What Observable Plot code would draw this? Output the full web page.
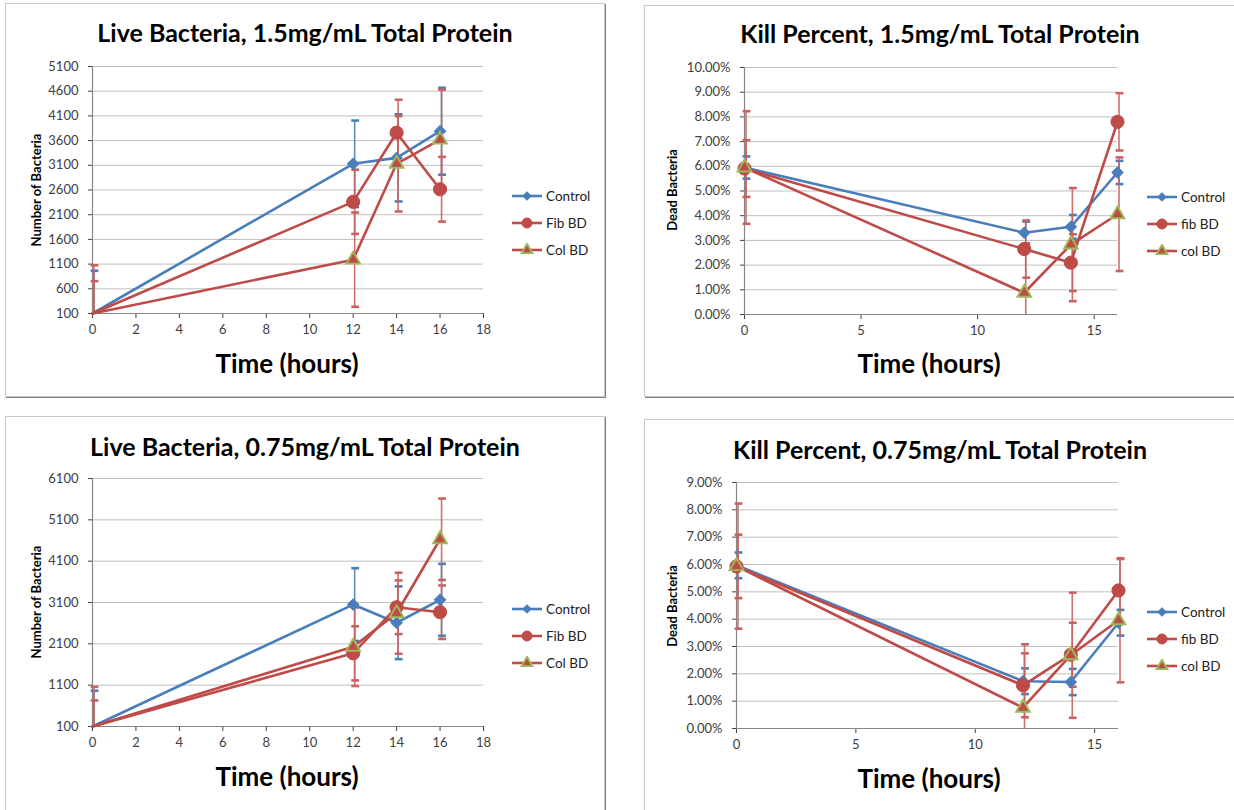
<!DOCTYPE html>
<html>
<head>
<meta charset="utf-8">
<script src="https://cdn.jsdelivr.net/npm/d3@7"></script>
<script src="https://cdn.jsdelivr.net/npm/@observablehq/plot@0.6"></script>
<style>
  html, body { margin: 0; padding: 0; background: #fff; }
  body { width: 1234px; height: 810px; overflow: hidden; position: relative; font-family: Lato, "Open Sans", sans-serif; }
  .panel { position: absolute; background: #fff; border: 1px solid #c8c8c8; box-shadow: 1px 1px 0 #7f7f7f; box-sizing: border-box; }
  .title { position: absolute; font-weight: bold; font-size: 25px; color: #000; white-space: nowrap; transform: translate(-50%, -50%); }
  .xtitle { position: absolute; font-weight: bold; font-size: 26px; color: #000; white-space: nowrap; transform: translate(-50%, -50%); }
  .ytitle { position: absolute; font-weight: bold; font-size: 13px; color: #000; white-space: nowrap; transform: translate(-50%, -50%) rotate(-90deg); }
  .chart { position: absolute; }
  .legend-item { position: absolute; display: flex; align-items: center; font-size: 13.5px; color: #222; white-space: nowrap; transform: translateY(-50%); }
  .legend-item svg { margin-right: 3px; }
</style>
</head>
<body>
<script>
// ---------------- data ----------------
const times = [0, 12, 14, 16];
const seriesNamesLive = ["Control", "Fib BD", "Col BD"];
const seriesNamesKill = ["Control", "fib BD", "col BD"];

// Live Bacteria, 1.5 mg/mL
const live15Control = [100, 3130, 3250, 3790];
const live15ControlErr = [865, 876, 882, 880];
const live15Fib = [100, 2360, 3760, 2615];
const live15FibErr = [655, 650, 667, 655];
const live15Col = [100, 1190, 3130, 3620];
const live15ColErr = [977, 955, 965, 1011];

// Kill Percent, 1.5 mg/mL (fractions)
const kill15Control = [0.0595, 0.0331, 0.0355, 0.0575];
const kill15ControlErr = [0.0045, 0.0045, 0.0048, 0.0047];
const kill15Fib = [0.0591, 0.0265, 0.0210, 0.0780];
const kill15FibErr = [0.0115, 0.0116, 0.0115, 0.0116];
const kill15Col = [0.0595, 0.0088, 0.0283, 0.0406];
const kill15ColErr = [0.0228, 0.0200, 0.0229, 0.0230];

// Live Bacteria, 0.75 mg/mL
const live075Control = [100, 3050, 2610, 3165];
const live075ControlErr = [865, 880, 880, 870];
const live075Fib = [100, 1870, 2985, 2865];
const live075FibErr = [630, 655, 650, 647];
const live075Col = [100, 2030, 2840, 4630];
const live075ColErr = [960, 950, 980, 985];

// Kill Percent, 0.75 mg/mL (fractions)
const kill075Control = [0.0597, 0.0173, 0.0170, 0.0387];
const kill075ControlErr = [0.0047, 0.0047, 0.0048, 0.0047];
const kill075Fib = [0.0593, 0.0158, 0.0270, 0.0505];
const kill075FibErr = [0.0116, 0.0117, 0.0117, 0.0115];
const kill075Col = [0.0594, 0.0076, 0.0268, 0.0396];
const kill075ColErr = [0.0229, 0.0232, 0.0229, 0.0227];

// axis ticks
const liveTicks15 = [100, 600, 1100, 1600, 2100, 2600, 3100, 3600, 4100, 4600, 5100];
const liveTicks075 = [100, 1100, 2100, 3100, 4100, 5100, 6100];
const killTicks15 = [0, 0.01, 0.02, 0.03, 0.04, 0.05, 0.06, 0.07, 0.08, 0.09, 0.10];
const killTicks075 = [0, 0.01, 0.02, 0.03, 0.04, 0.05, 0.06, 0.07, 0.08, 0.09];
const liveXTicks = [0, 2, 4, 6, 8, 10, 12, 14, 16, 18];
const killXTicks = [0, 5, 10, 15];

// ---------------- styles ----------------
const BLUE = "#4A7EBB";
const RED = "#BE4B48";
const GREEN = "#9BBB59";
const styles = [
  {stroke: BLUE, errStroke: BLUE, symbol: "square", rotate: 45, r: 4.5, fill: BLUE, mstroke: BLUE, msw: 1},
  {stroke: RED, errStroke: "#C9625F", symbol: "circle", rotate: 0, r: 6.6, fill: RED, mstroke: RED, msw: 1},
  {stroke: RED, errStroke: "#C9625F", symbol: "triangle", rotate: 0, r: 5.1, fill: RED, mstroke: GREEN, msw: 1.9}
];

const capSymbol = {
  draw(context, size) {
    const w = Math.sqrt(size);
    context.moveTo(-w, 0);
    context.lineTo(w, 0);
  }
};

function makeRows(vals, errs) {
  return times.map((t, i) => ({t, v: vals[i], e: errs[i]}));
}

function chart(cfg) {
  const ML = 80, MR = 24, MT = 20, MB = 44;
  const [lo, hi] = cfg.yDomain;
  const pw = cfg.plot[2] - cfg.plot[0];
  const ph = cfg.plot[3] - cfg.plot[1];
  const marks = [
    Plot.ruleY(cfg.yTicks, {y: d => d, stroke: "#bfbfbf", strokeWidth: 1}),
    Plot.ruleX([cfg.xDomain[0]], {x: d => d, stroke: "#868686", strokeWidth: 1.2}),
    Plot.ruleY([cfg.yDomain[0]], {y: d => d, stroke: "#868686", strokeWidth: 1.2})
  ];
  cfg.series.forEach((s, i) => {
    const st = styles[i];
    const rows = makeRows(s.vals, s.errs);
    const ups = rows.filter(d => d.v + d.e <= hi);
    const downs = rows.filter(d => d.v - d.e >= lo);
    marks.push(Plot.ruleX(rows, {x: "t", y1: d => Math.max(lo, d.v - d.e), y2: d => Math.min(hi, d.v + d.e), stroke: st.errStroke, strokeWidth: 1.6, strokeOpacity: 0.9, dx: 1.5}));
    marks.push(Plot.dot(ups, {x: "t", y: d => d.v + d.e, symbol: capSymbol, r: 2.2, stroke: st.errStroke, strokeWidth: 2.6, fill: "none", dx: 2}));
    marks.push(Plot.dot(downs, {x: "t", y: d => d.v - d.e, symbol: capSymbol, r: 2.2, stroke: st.errStroke, strokeWidth: 2.6, fill: "none", dx: 2}));
  });
  cfg.series.forEach((s, i) => {
    const st = styles[i];
    const rows = makeRows(s.vals, s.errs);
    marks.push(Plot.line(rows, {x: "t", y: "v", stroke: st.stroke, strokeWidth: 2.6}));
  });
  cfg.series.forEach((s, i) => {
    const st = styles[i];
    const rows = makeRows(s.vals, s.errs).filter(d => d.v > lo);
    marks.push(Plot.dot(rows, {x: "t", y: "v", symbol: st.symbol, rotate: st.rotate, r: st.r, fill: st.fill, stroke: st.mstroke, strokeWidth: st.msw}));
  });
  const svg = Plot.plot({
    width: pw + ML + MR,
    height: ph + MT + MB,
    marginLeft: ML, marginRight: MR, marginTop: MT, marginBottom: MB,
    style: {fontFamily: "Lato, 'Open Sans', sans-serif", fontSize: "13px", color: "#404040", background: "transparent", overflow: "visible"},
    x: {domain: cfg.xDomain, ticks: cfg.xTicks, tickSize: 5, tickPadding: 6, label: null},
    y: {domain: cfg.yDomain, ticks: cfg.yTicks, tickSize: 4, tickPadding: 10, tickFormat: cfg.yFormat, label: null},
    marks
  });
  svg.classList.add("chart");
  svg.style.left = (cfg.plot[0] - ML) + "px";
  svg.style.top = (cfg.plot[1] - MT) + "px";
  document.body.appendChild(svg);
}

function div(cls, text, x, y) {
  const d = document.createElement("div");
  d.className = cls;
  d.textContent = text;
  d.style.left = x + "px";
  d.style.top = y + "px";
  document.body.appendChild(d);
  return d;
}

function panel(l, t, w, h) {
  const d = document.createElement("div");
  d.className = "panel";
  Object.assign(d.style, {left: l + "px", top: t + "px", width: w + "px", height: h + "px"});
  document.body.appendChild(d);
}

function legend(names, x, ys) {
  names.forEach((name, i) => {
    const st = styles[i];
    const item = document.createElement("div");
    item.className = "legend-item";
    item.style.left = x + "px";
    item.style.top = ys[i] + "px";
    const svg = d3.create("svg").attr("width", 32).attr("height", 14);
    svg.append("line").attr("x1", 1).attr("x2", 31).attr("y1", 7).attr("y2", 7).attr("stroke", st.stroke).attr("stroke-width", 2.6);
    let sym;
    if (st.symbol === "square") sym = d3.symbol(d3.symbolSquare, Math.PI * 11);
    else if (st.symbol === "circle") sym = d3.symbol(d3.symbolCircle, Math.PI * 25);
    else sym = d3.symbol(d3.symbolTriangle, Math.PI * 16);
    svg.append("path").attr("d", sym()).attr("transform", `translate(16,7) rotate(${st.rotate})`)
      .attr("fill", st.fill).attr("stroke", st.mstroke).attr("stroke-width", st.msw);
    item.appendChild(svg.node());
    const span = document.createElement("span");
    span.textContent = name;
    item.appendChild(span);
    document.body.appendChild(item);
  });
}

// panels
panel(5, 3, 600, 394);
panel(644, 5, 600, 392);
panel(5, 416, 600, 400);
panel(644, 419, 600, 400);

const pct = d3.format(".2%");

chart({plot: [92, 66, 483, 313], xDomain: [0, 18], xTicks: liveXTicks, yDomain: [100, 5100], yTicks: liveTicks15, yFormat: d3.format("d"),
  series: [{vals: live15Control, errs: live15ControlErr}, {vals: live15Fib, errs: live15FibErr}, {vals: live15Col, errs: live15ColErr}]});
chart({plot: [744, 67, 1117, 314], xDomain: [0, 16], xTicks: killXTicks, yDomain: [0, 0.10], yTicks: killTicks15, yFormat: pct,
  series: [{vals: kill15Control, errs: kill15ControlErr}, {vals: kill15Fib, errs: kill15FibErr}, {vals: kill15Col, errs: kill15ColErr}]});
chart({plot: [92, 478, 483, 726], xDomain: [0, 18], xTicks: liveXTicks, yDomain: [100, 6100], yTicks: liveTicks075, yFormat: d3.format("d"),
  series: [{vals: live075Control, errs: live075ControlErr}, {vals: live075Fib, errs: live075FibErr}, {vals: live075Col, errs: live075ColErr}]});
chart({plot: [736, 482, 1118, 728], xDomain: [0, 16], xTicks: killXTicks, yDomain: [0, 0.09], yTicks: killTicks075, yFormat: pct,
  series: [{vals: kill075Control, errs: kill075ControlErr}, {vals: kill075Fib, errs: kill075FibErr}, {vals: kill075Col, errs: kill075ColErr}]});

// titles
div("title", "Live Bacteria, 1.5mg/mL Total Protein", 305, 32);
div("title", "Kill Percent, 1.5mg/mL Total Protein", 940, 33);
div("title", "Live Bacteria, 0.75mg/mL Total Protein", 305, 446);
div("title", "Kill Percent, 0.75mg/mL Total Protein", 940, 449);

div("xtitle", "Time (hours)", 287, 363);
div("xtitle", "Time (hours)", 929, 363);
div("xtitle", "Time (hours)", 287, 776);
div("xtitle", "Time (hours)", 929, 778);

div("ytitle", "Number of Bacteria", 36, 190);
div("ytitle", "Dead Bacteria", 672, 190);
div("ytitle", "Number of Bacteria", 36, 602);
div("ytitle", "Dead Bacteria", 672, 606);

legend(seriesNamesLive, 511, [196, 223, 250]);
legend(seriesNamesKill, 1146, [197, 224, 251]);
legend(seriesNamesLive, 511, [609, 636, 663]);
legend(seriesNamesKill, 1146, [612, 639, 666]);
</script>
</body>
</html>
